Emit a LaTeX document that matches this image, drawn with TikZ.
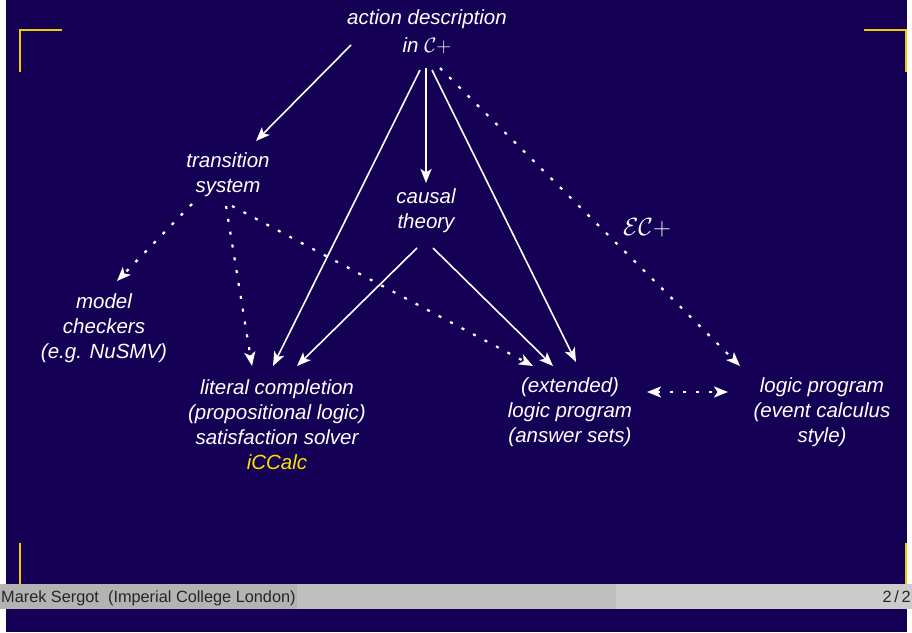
\documentclass[tikz,border=0pt]{standalone}
\usepackage[no-math]{fontspec}
\setmainfont{Liberation Sans}
\usetikzlibrary{arrows.meta}
\definecolor{bg}{RGB}{20,0,85}
\definecolor{markc}{RGB}{235,205,0}
\definecolor{icc}{RGB}{255,225,0}
\definecolor{fa}{RGB}{179,179,179}
\definecolor{fb}{RGB}{191,191,191}
\definecolor{fc}{RGB}{204,204,204}
\begin{document}
\begin{tikzpicture}[x=1pt,y=-1pt,
  lbl/.style={text=white, align=center, font=\fontsize{20.5}{25}\selectfont\itshape, inner sep=0pt},
  tip/.style={-{Stealth[length=14pt,width=11pt,inset=3.5pt]}},
  solidarrow/.style={draw=white, line width=1.6pt, tip},
  dotarrow/.style={draw=white, line width=2.2pt, dash pattern=on 3pt off 10pt, tip},
  cornermark/.style={draw=markc, line width=2pt},
  foot/.style={font=\fontsize{16.3}{19}\selectfont, text=black!85, inner sep=0pt}]
\useasboundingbox (0,0) rectangle (912,632);
\fill[white] (0,0) rectangle (912,632);
\fill[bg] (6,0) rectangle (907,632);
% footer
\fill[fa] (0,584) rectangle (297,609);
\fill[fb] (297,584) rectangle (616,609);
\fill[fc] (616,584) rectangle (912,609);
\node[foot, anchor=base west] (author) at (1,602.3) {Marek Sergot\ \ (Imperial College London)};
\node[foot, anchor=base east] (page) at (911,602.3) {2\,/\,2};
% corner marks
\draw[cornermark] (20,72) -- (20,30) -- (62,30);
\draw[cornermark] (864,30) -- (906,30) -- (906,72);
\draw[cornermark] (20,543) -- (20,584);
\draw[cornermark] (906,543) -- (906,584);
% nodes
\node[lbl] (action) at (427,32) {action description\\[3pt]in $\mathcal{C}+$};
\node[lbl] (trans) at (228,174.5) {transition\\system};
\node[lbl] (causal) at (426,211) {causal\\theory};
\node[lbl] (model) at (104,328) {model\\checkers\\(e.g. NuSMV)};
\node[lbl] (lit) at (277,424.5) {literal completion\\(propositional logic)\\satisfaction solver\\\textcolor{icc}{iCCalc}};
\node[lbl] (ext) at (570,412) {(extended)\\logic program\\(answer sets)};
\node[lbl] (ec) at (822,412) {logic program\\(event calculus\\style)};
\node[lbl, font=\fontsize{26}{30}\selectfont] (eclabel) at (647,228) {$\mathcal{EC}+$};
% connector end points
\coordinate (a-t) at (351,45);   \coordinate (t-in) at (256,141);
\coordinate (a-c) at (426,68);   \coordinate (c-in) at (426,183);
\coordinate (a-l) at (420,70);   \coordinate (l-a) at (273,366);
\coordinate (a-x) at (432,70);   \coordinate (x-a) at (576,362);
\coordinate (a-e) at (440,68);   \coordinate (e-a) at (740,366);
\coordinate (c-l) at (417,248);  \coordinate (l-c) at (297,366);
\coordinate (c-x) at (433,248);  \coordinate (x-c) at (553,366);
\coordinate (t-m) at (192,204);  \coordinate (m-t) at (117,281);
\coordinate (t-l) at (226,206);  \coordinate (l-t) at (252,366);
\coordinate (t-x) at (232,206);  \coordinate (x-t) at (533,366);
\coordinate (x-e) at (647,392);  \coordinate (e-x) at (728,392);
% connectors
\draw[solidarrow] (a-t) -- (t-in);
\draw[solidarrow, line width=2.6pt] (a-c) -- (c-in);
\draw[solidarrow] (a-l) -- (l-a);
\draw[solidarrow] (a-x) -- (x-a);
\draw[dotarrow] (a-e) -- (e-a);
\draw[solidarrow] (c-l) -- (l-c);
\draw[solidarrow] (c-x) -- (x-c);
\draw[dotarrow] (t-m) -- (m-t);
\draw[dotarrow] (t-l) -- (l-t);
\draw[dotarrow] (t-x) -- (x-t);
\draw[dotarrow, {Stealth[length=14pt,width=11pt,inset=3.5pt]}-{Stealth[length=14pt,width=11pt,inset=3.5pt]}] (x-e) -- (e-x);
\end{tikzpicture}
\end{document}
